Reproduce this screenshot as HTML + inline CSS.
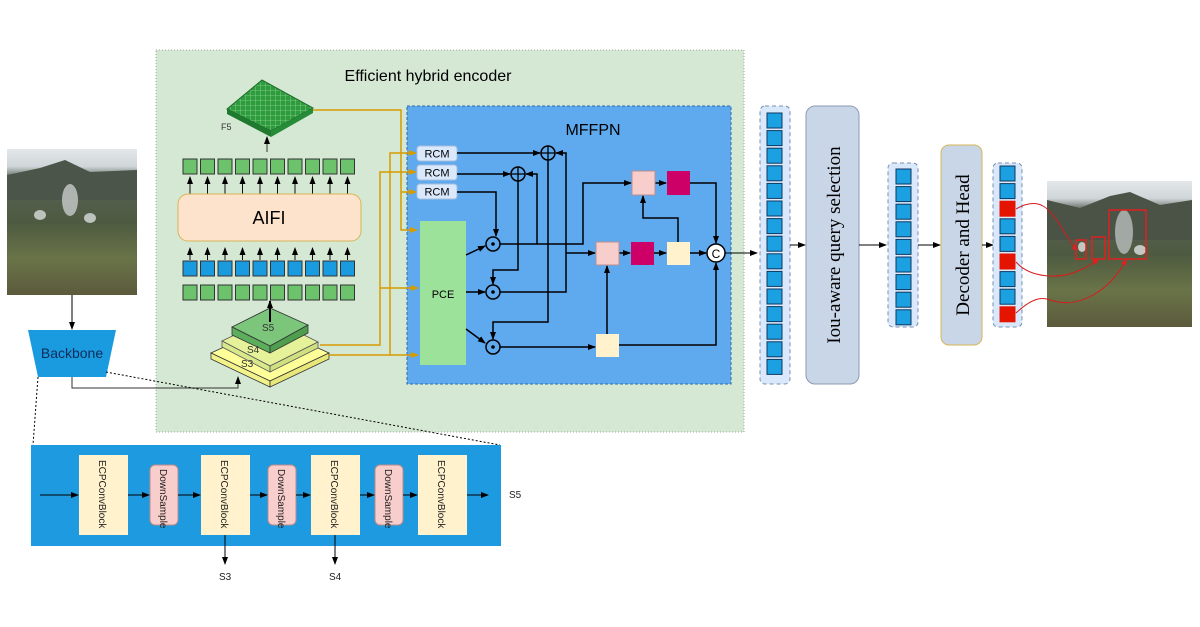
<!DOCTYPE html>
<html><head><meta charset="utf-8"><style>
html,body{margin:0;padding:0;background:#fff;}
svg{display:block;}
text{font-family:"Liberation Sans",sans-serif;}
</style></head><body>
<svg width="1200" height="627" viewBox="0 0 1200 627" xmlns="http://www.w3.org/2000/svg">
<defs>
<marker id="a" markerWidth="8" markerHeight="8" refX="7" refY="4" orient="auto" markerUnits="userSpaceOnUse"><path d="M0,1 L8,4 L0,7 Z" fill="#000"/></marker>
<marker id="o" markerWidth="8" markerHeight="8" refX="7" refY="4" orient="auto" markerUnits="userSpaceOnUse"><path d="M0,1 L8,4 L0,7 Z" fill="#d79b00"/></marker>
<marker id="r" markerWidth="6" markerHeight="6" refX="5" refY="3" orient="auto" markerUnits="userSpaceOnUse"><path d="M0,0 L6,3 L0,6 Z" fill="#e02020"/></marker>
<linearGradient id="ph" x1="0" y1="0" x2="0" y2="1">
<stop offset="0" stop-color="#e4e8ea"/><stop offset="0.12" stop-color="#cfd5d8"/><stop offset="0.2" stop-color="#5a6258"/><stop offset="0.5" stop-color="#4e5a40"/><stop offset="0.75" stop-color="#6a7448"/><stop offset="1" stop-color="#5b5a3c"/>
</linearGradient>
<pattern id="grid" width="5" height="5" patternUnits="userSpaceOnUse"><rect width="5" height="5" fill="#2e9b3e"/><path d="M0,0 H5 M0,0 V5" stroke="#8fd68f" stroke-width="0.8"/></pattern>
</defs>

<!-- input photo -->
<rect x="7" y="149" width="130" height="146" fill="url(#ph)"/>
<path d="M7,175 L40,168 L65,160 L90,172 L137,170 L137,200 L7,200Z" fill="#4c5549"/>
<ellipse cx="70" cy="200" rx="8" ry="16" fill="#c8cccc" opacity="0.8"/>
<ellipse cx="40" cy="215" rx="6" ry="5" fill="#d8dcdc" opacity="0.8"/>
<ellipse cx="90" cy="218" rx="6" ry="5" fill="#d8dcdc" opacity="0.8"/>

<!-- encoder region -->
<rect x="156" y="50" width="588" height="382" fill="#d5e8d4" stroke="#9aa89a" stroke-dasharray="1,2"/>
<text x="428" y="81" font-size="16" text-anchor="middle">Efficient hybrid encoder</text>

<!-- backbone -->
<line x1="72" y1="295" x2="72" y2="329" stroke="#000" marker-end="url(#a)"/>
<polygon points="28,330 116,330 106,377 38,377" fill="#1a9be0"/>
<text x="72" y="358" font-size="14" text-anchor="middle" fill="#0c2d5a">Backbone</text>
<path d="M72,377 V388 H238 V377" fill="none" stroke="#333" marker-end="url(#a)"/>
<line x1="38" y1="377" x2="33" y2="445" stroke="#000" stroke-dasharray="2,2"/>
<line x1="106" y1="372" x2="500" y2="445" stroke="#000" stroke-dasharray="2,2"/>

<!-- F5 grid -->
<polygon points="227,109 262,80 313,108 271,131" fill="url(#grid)" stroke="#1e6e2a"/>
<polygon points="227,109 271,131 271,137 227,114" fill="#1f7a30"/>
<polygon points="271,131 313,108 313,113 271,137" fill="#268c38"/>
<text x="221" y="130" font-size="9" fill="#333">F5</text>
<line x1="267" y1="152" x2="267" y2="137" stroke="#333" marker-end="url(#a)"/>

<g stroke="#333" stroke-width="1">
<g fill="#6cc36c">
<rect x="183" y="159" width="14" height="15"/><rect x="200.5" y="159" width="14" height="15"/><rect x="218" y="159" width="14" height="15"/><rect x="235.5" y="159" width="14" height="15"/><rect x="253" y="159" width="14" height="15"/><rect x="270.5" y="159" width="14" height="15"/><rect x="288" y="159" width="14" height="15"/><rect x="305.5" y="159" width="14" height="15"/><rect x="323" y="159" width="14" height="15"/><rect x="340.5" y="159" width="14" height="15"/>
</g>
<g fill="#1a9be0">
<rect x="183" y="261" width="14" height="15"/><rect x="200.5" y="261" width="14" height="15"/><rect x="218" y="261" width="14" height="15"/><rect x="235.5" y="261" width="14" height="15"/><rect x="253" y="261" width="14" height="15"/><rect x="270.5" y="261" width="14" height="15"/><rect x="288" y="261" width="14" height="15"/><rect x="305.5" y="261" width="14" height="15"/><rect x="323" y="261" width="14" height="15"/><rect x="340.5" y="261" width="14" height="15"/>
</g>
<g fill="#6cc36c">
<rect x="183" y="285" width="14" height="15"/><rect x="200.5" y="285" width="14" height="15"/><rect x="218" y="285" width="14" height="15"/><rect x="235.5" y="285" width="14" height="15"/><rect x="253" y="285" width="14" height="15"/><rect x="270.5" y="285" width="14" height="15"/><rect x="288" y="285" width="14" height="15"/><rect x="305.5" y="285" width="14" height="15"/><rect x="323" y="285" width="14" height="15"/><rect x="340.5" y="285" width="14" height="15"/>
</g>
</g>
<g stroke="#111" marker-end="url(#a)">
<line x1="190" y1="194" x2="190" y2="177"/><line x1="207.5" y1="194" x2="207.5" y2="177"/><line x1="225" y1="194" x2="225" y2="177"/><line x1="242.5" y1="194" x2="242.5" y2="177"/><line x1="260" y1="194" x2="260" y2="177"/><line x1="277.5" y1="194" x2="277.5" y2="177"/><line x1="295" y1="194" x2="295" y2="177"/><line x1="312.5" y1="194" x2="312.5" y2="177"/><line x1="330" y1="194" x2="330" y2="177"/><line x1="347.5" y1="194" x2="347.5" y2="177"/>
<line x1="190" y1="260" x2="190" y2="248"/><line x1="207.5" y1="260" x2="207.5" y2="248"/><line x1="225" y1="260" x2="225" y2="248"/><line x1="242.5" y1="260" x2="242.5" y2="248"/><line x1="260" y1="260" x2="260" y2="248"/><line x1="277.5" y1="260" x2="277.5" y2="248"/><line x1="295" y1="260" x2="295" y2="248"/><line x1="312.5" y1="260" x2="312.5" y2="248"/><line x1="330" y1="260" x2="330" y2="248"/><line x1="347.5" y1="260" x2="347.5" y2="248"/>
</g>
<rect x="178" y="194" width="183" height="47" rx="10" fill="#fde3cb" stroke="#d6b656"/>
<text x="269" y="224" font-size="18" text-anchor="middle">AIFI</text>

<!-- pyramid -->
<polygon points="211,353 270,326 329,353 270,381" fill="#ffff99" stroke="#333" stroke-width="0.8"/>
<polygon points="211,353 270,381 270,387 211,359" fill="#f2f28a" stroke="#333" stroke-width="0.8"/>
<polygon points="270,381 329,353 329,359 270,387" fill="#e8e87a" stroke="#333" stroke-width="0.8"/>
<polygon points="222,341 270,318 318,342 270,366" fill="#e6f29a" stroke="#555" stroke-width="0.8"/>
<polygon points="222,341 270,366 270,372 222,347" fill="#d8e88a" stroke="#555" stroke-width="0.8"/>
<polygon points="270,366 318,342 318,348 270,372" fill="#d0e080" stroke="#555" stroke-width="0.8"/>
<polygon points="232,327 270,308 308,325 270,346" fill="#7cc67c" stroke="#333" stroke-width="0.8"/>
<polygon points="232,327 270,346 270,353 232,335" fill="#5cae5c" stroke="#333" stroke-width="0.8"/>
<polygon points="270,346 308,325 308,333 270,353" fill="#4e9e4e" stroke="#333" stroke-width="0.8"/>
<text x="262" y="331" font-size="10" fill="#333">S5</text>
<text x="247" y="353" font-size="10" fill="#333">S4</text>
<text x="241" y="367" font-size="10" fill="#333">S3</text>
<line x1="270" y1="322" x2="270" y2="301" stroke="#000" stroke-width="2" marker-end="url(#a)"/>

<!-- MFFPN -->
<rect x="407" y="106" width="324" height="278" fill="#5fa9ee" stroke="#2d6aa8" stroke-dasharray="3,2"/>
<text x="593" y="135" font-size="16" text-anchor="middle">MFFPN</text>

<g fill="none" stroke="#d79b00" stroke-width="1.5">
<path d="M313,110 H401 V230 H417" marker-end="url(#o)"/>
<path d="M401,192 H416" marker-end="url(#o)"/>
<path d="M320,345 H380 V172 H416" marker-end="url(#o)"/>
<path d="M380,288 H418" marker-end="url(#o)"/>
<path d="M329,355 H390 V153 H416" marker-end="url(#o)"/>
<path d="M390,355 H418" marker-end="url(#o)"/>
</g>

<g fill="#dae8fc" stroke="#a9c0dd">
<rect x="417" y="146" width="40" height="15" rx="3"/>
<rect x="417" y="165" width="40" height="15" rx="3"/>
<rect x="417" y="184" width="40" height="15" rx="3"/>
</g>
<g font-size="11" text-anchor="middle"><text x="437" y="157.5">RCM</text><text x="437" y="176.5">RCM</text><text x="437" y="195.5">RCM</text></g>
<rect x="420" y="221" width="46" height="144" fill="#9de29a"/>
<text x="443" y="298" font-size="11" text-anchor="middle">PCE</text>

<g fill="none" stroke="#000" stroke-width="1.5">
<path d="M457,153 H540" marker-end="url(#a)"/>
<path d="M457,174 H510" marker-end="url(#a)"/>
<path d="M457,192 H496 V236" marker-end="url(#a)"/>
<path d="M466,255 L485,246" marker-end="url(#a)"/>
<path d="M466,292 H485" marker-end="url(#a)"/>
<path d="M466,329 L485,343" marker-end="url(#a)"/>
<path d="M500,244 H583 V183 H631" marker-end="url(#a)"/>
<path d="M537,244 V174 H526" marker-end="url(#a)"/>
<path d="M518,181 V270 H493 V284" marker-end="url(#a)"/>
<path d="M500,292 H566 V153 H556" marker-end="url(#a)"/>
<path d="M548,160 V322 H493 V339" marker-end="url(#a)"/>
<path d="M566,253 H595" marker-end="url(#a)"/>
<path d="M619,253 H630" marker-end="url(#a)"/>
<path d="M654,253 H666" marker-end="url(#a)"/>
<path d="M690,253 H706" marker-end="url(#a)"/>
<path d="M655,183 H666" marker-end="url(#a)"/>
<path d="M690,183 H716 V243" marker-end="url(#a)"/>
<path d="M678,242 V218 H643 V196" marker-end="url(#a)"/>
<path d="M500,347 H595" marker-end="url(#a)"/>
<path d="M607,334 V266" marker-end="url(#a)"/>
<path d="M619,345 H716 V263" marker-end="url(#a)"/>
</g>
<g fill="#5fa9ee" stroke="#000" stroke-width="1.5">
<circle cx="548" cy="153" r="7"/><circle cx="518" cy="174" r="7"/>
<circle cx="493" cy="244" r="7"/><circle cx="493" cy="292" r="7"/><circle cx="493" cy="347" r="7"/>
</g>
<g stroke="#000" stroke-width="1.3"><path d="M541,153 H555 M548,146 V160 M511,174 H525 M518,167 V181"/></g>
<g fill="#000"><circle cx="493" cy="244" r="1.8"/><circle cx="493" cy="292" r="1.8"/><circle cx="493" cy="347" r="1.8"/></g>
<rect x="632" y="171" width="23" height="24" fill="#f8cecc" stroke="#b8908f"/>
<rect x="667" y="171" width="23" height="24" fill="#cc0066"/>
<rect x="596" y="242" width="23" height="23" fill="#f8cecc" stroke="#b8908f"/>
<rect x="631" y="242" width="23" height="23" fill="#cc0066"/>
<rect x="667" y="242" width="23" height="23" fill="#fff2cc"/>
<rect x="596" y="334" width="23" height="23" fill="#fff2cc"/>
<circle cx="716" cy="253" r="9" fill="#fff" stroke="#000" stroke-width="1.5"/>
<text x="716" y="258" font-size="12" text-anchor="middle">C</text>
<line x1="725" y1="253" x2="757" y2="253" stroke="#000" marker-end="url(#a)"/>

<!-- column 1 -->
<rect x="760" y="106" width="30" height="278" rx="5" fill="#dae8fc" stroke="#7a8fb0" stroke-dasharray="4,3"/>
<g fill="#1ba1e2" stroke="#10385e">
<rect x="767" y="113" width="15" height="15"/><rect x="767" y="130.6" width="15" height="15"/><rect x="767" y="148.2" width="15" height="15"/><rect x="767" y="165.8" width="15" height="15"/><rect x="767" y="183.4" width="15" height="15"/><rect x="767" y="201" width="15" height="15"/><rect x="767" y="218.6" width="15" height="15"/><rect x="767" y="236.2" width="15" height="15"/><rect x="767" y="253.8" width="15" height="15"/><rect x="767" y="271.4" width="15" height="15"/><rect x="767" y="289" width="15" height="15"/><rect x="767" y="306.6" width="15" height="15"/><rect x="767" y="324.2" width="15" height="15"/><rect x="767" y="341.8" width="15" height="15"/><rect x="767" y="359.4" width="15" height="15"/>
</g>
<line x1="790" y1="245" x2="805" y2="245" stroke="#000" marker-end="url(#a)"/>
<rect x="806" y="106" width="53" height="278" rx="9" fill="#c9d6e8" stroke="#8a9bb5"/>
<text transform="translate(840,245) rotate(-90)" font-size="19" text-anchor="middle" style="font-family:'Liberation Serif',serif">Iou-aware query selection</text>
<line x1="859" y1="245" x2="886" y2="245" stroke="#000" marker-end="url(#a)"/>

<rect x="888" y="163" width="30" height="164" rx="5" fill="#dae8fc" stroke="#7a8fb0" stroke-dasharray="4,3"/>
<g fill="#1ba1e2" stroke="#10385e">
<rect x="896" y="169" width="15" height="15"/><rect x="896" y="186.6" width="15" height="15"/><rect x="896" y="204.2" width="15" height="15"/><rect x="896" y="221.8" width="15" height="15"/><rect x="896" y="239.4" width="15" height="15"/><rect x="896" y="257" width="15" height="15"/><rect x="896" y="274.6" width="15" height="15"/><rect x="896" y="292.2" width="15" height="15"/><rect x="896" y="309.8" width="15" height="15"/>
</g>
<line x1="918" y1="245" x2="940" y2="245" stroke="#000" marker-end="url(#a)"/>
<rect x="941" y="145" width="41" height="200" rx="8" fill="#c9d6e8" stroke="#d6b656"/>
<text transform="translate(969,245) rotate(-90)" font-size="19" text-anchor="middle" style="font-family:'Liberation Serif',serif">Decoder and Head</text>
<line x1="982" y1="245" x2="993" y2="245" stroke="#000" marker-end="url(#a)"/>

<rect x="993" y="163" width="29" height="164" rx="5" fill="#dae8fc" stroke="#7a8fb0" stroke-dasharray="4,3"/>
<g stroke="#10385e">
<rect x="1000" y="166" width="15" height="15" fill="#1ba1e2"/><rect x="1000" y="183.6" width="15" height="15" fill="#1ba1e2"/><rect x="1000" y="201.2" width="15" height="15" fill="#e51400" stroke="#e51400"/><rect x="1000" y="218.8" width="15" height="15" fill="#1ba1e2"/><rect x="1000" y="236.4" width="15" height="15" fill="#1ba1e2"/><rect x="1000" y="254" width="15" height="15" fill="#e51400" stroke="#e51400"/><rect x="1000" y="271.6" width="15" height="15" fill="#1ba1e2"/><rect x="1000" y="289.2" width="15" height="15" fill="#1ba1e2"/><rect x="1000" y="306.8" width="15" height="15" fill="#e51400" stroke="#e51400"/>
</g>

<!-- output photo -->
<rect x="1047" y="181" width="145" height="146" fill="url(#ph)"/>
<path d="M1047,200 L1080,208 L1110,196 L1130,192 L1160,205 L1192,200 L1192,240 L1047,240Z" fill="#4a5346"/>
<ellipse cx="1124" cy="232" rx="9" ry="22" fill="#c0c4c4" opacity="0.75"/>
<ellipse cx="1140" cy="250" rx="6" ry="5" fill="#e0e2e2" opacity="0.8"/>
<ellipse cx="1082" cy="247" rx="4" ry="5" fill="#e0e2e2" opacity="0.8"/>
<g fill="none" stroke="#e02020" stroke-width="1.5">
<rect x="1076" y="240" width="10" height="19"/><rect x="1092" y="237" width="13" height="22"/><rect x="1109" y="210" width="37" height="49"/>
</g>
<g fill="none" stroke="#d81b1b" stroke-width="1">
<path d="M1016,209 C1040,195 1050,210 1060,225 C1066,235 1072,245 1077,250" marker-end="url(#r)"/>
<path d="M1016,262 C1030,278 1060,280 1080,270 C1090,266 1095,262 1098,260" marker-end="url(#r)"/>
<path d="M1016,313 C1030,300 1040,296 1050,300 C1080,310 1110,290 1126,260" marker-end="url(#r)"/>
</g>

<!-- bottom backbone detail -->
<rect x="31" y="445" width="470" height="101" fill="#1e9be0"/>
<g fill="#fff2cc"><rect x="79" y="455" width="49" height="80"/><rect x="201" y="455" width="49" height="80"/><rect x="311" y="455" width="49" height="80"/><rect x="418" y="455" width="49" height="80"/></g>
<g fill="#f8cecc" stroke="#b88"><rect x="150" y="465" width="28" height="60" rx="5"/><rect x="268" y="465" width="28" height="60" rx="5"/><rect x="375" y="465" width="28" height="60" rx="5"/></g>
<g font-size="10" fill="#222">
<text transform="translate(99,460) rotate(90)">ECPConvBlock</text>
<text transform="translate(221,460) rotate(90)">ECPConvBlock</text>
<text transform="translate(331,460) rotate(90)">ECPConvBlock</text>
<text transform="translate(438,460) rotate(90)">ECPConvBlock</text>
<text transform="translate(160,469) rotate(90)">DownSample</text>
<text transform="translate(278,469) rotate(90)">DownSample</text>
<text transform="translate(385,469) rotate(90)">DownSample</text>
</g>
<g stroke="#000" marker-end="url(#a)">
<line x1="40" y1="495" x2="78" y2="495"/><line x1="128" y1="495" x2="149" y2="495"/><line x1="178" y1="495" x2="200" y2="495"/><line x1="250" y1="495" x2="267" y2="495"/><line x1="296" y1="495" x2="310" y2="495"/><line x1="360" y1="495" x2="374" y2="495"/><line x1="403" y1="495" x2="417" y2="495"/><line x1="467" y1="495" x2="488" y2="495"/>
<line x1="225" y1="535" x2="225" y2="564"/><line x1="335" y1="535" x2="335" y2="564"/>
</g>
<g font-size="10" fill="#222"><text x="509" y="498">S5</text><text x="219" y="580">S3</text><text x="329" y="580">S4</text></g>
</svg>
</body></html>
